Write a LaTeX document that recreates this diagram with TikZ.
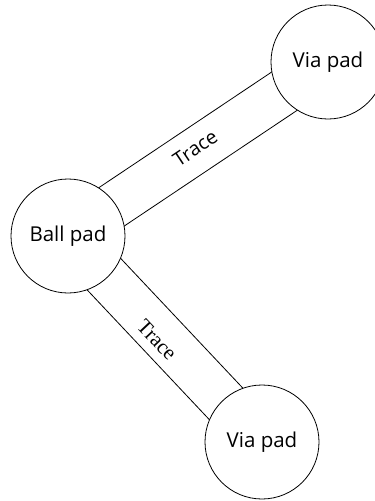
\documentclass[tikz,border=0pt]{standalone}
\usepackage{fontspec}
\setmainfont{Open Sans}
\newfontfamily\traceserif{Liberation Serif}
\usetikzlibrary{calc}
\begin{document}
\begin{tikzpicture}[x=1pt,y=-1pt,
  pad/.style={circle, draw, fill=white, line width=0.8pt, minimum size=114pt, inner sep=0pt, font=\fontsize{20.5}{22}\selectfont},
  traceline/.style={line width=0.8pt},
  tracelabel/.style={inner sep=1pt, font=\fontsize{19.5}{21}\selectfont}]
  \useasboundingbox (0,0) rectangle (375,501);
  % pad centres
  \coordinate (cBall) at (68,236);
  \coordinate (cViaA) at (328,62);
  \coordinate (cViaB) at (262,442);
  % trace edges (covered by the pads where they meet)
  \draw[traceline] ($(cBall)!23pt!90:(cViaA)$) -- ($(cViaA)!23pt!-90:(cBall)$);
  \draw[traceline] ($(cBall)!23pt!-90:(cViaA)$) -- ($(cViaA)!23pt!90:(cBall)$);
  \draw[traceline] ($(cBall)!23pt!90:(cViaB)$) -- ($(cViaB)!23pt!-90:(cBall)$);
  \draw[traceline] ($(cBall)!23pt!-90:(cViaB)$) -- ($(cViaB)!23pt!90:(cBall)$);
  % pads
  \node[pad] (ball) at (cBall) {Ball pad};
  \node[pad] (viaA) at (cViaA) {Via pad};
  \node[pad] (viaB) at (cViaB) {Via pad};
  % trace labels
  \path (ball) -- (viaA) node[midway, sloped, tracelabel, xshift=-2pt, yshift=2pt] {Trace};
  \node[tracelabel, rotate=-46.7, font=\traceserif\fontsize{21}{23}\selectfont] (lowlabel)
    at ($(cBall)!0.5!(cViaB)+(-8,1)$) {Trace};
\end{tikzpicture}
\end{document}
